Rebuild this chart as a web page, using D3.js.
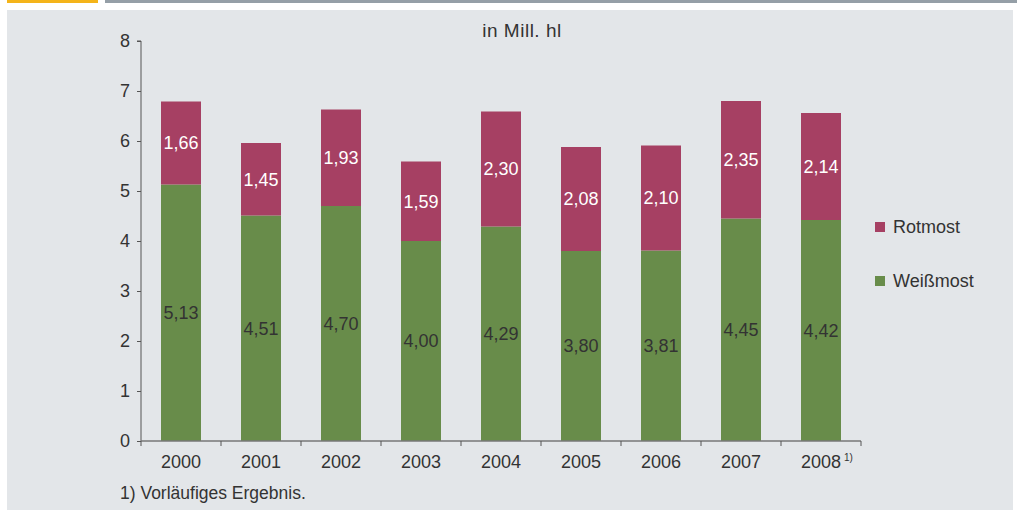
<!DOCTYPE html>
<html>
<head>
<meta charset="utf-8">
<script src="https://cdn.jsdelivr.net/npm/d3@7"></script>
<style>
  html, body { margin: 0; padding: 0; background: #ffffff; }
  svg { display: block; font-family: "Liberation Sans", Arial, sans-serif; }
</style>
</head>
<body>
<svg id="chart" width="1019" height="510"></svg>
<script>
// Most production in Germany, million hectolitres
const years = ["2000", "2001", "2002", "2003", "2004", "2005", "2006", "2007", "2008"];
const weissmost = [5.13, 4.51, 4.70, 4.00, 4.29, 3.80, 3.81, 4.45, 4.42];
const rotmost = [1.66, 1.45, 1.93, 1.59, 2.30, 2.08, 2.10, 2.35, 2.14];
const yTicks = [0, 1, 2, 3, 4, 5, 6, 7, 8];
const seriesNames = ["Weißmost", "Rotmost"];
const seriesColors = ["#688c4a", "#a64063"];
const labelColors = ["#333333", "#ffffff"];

const svg = d3.select("#chart");
const fmt = v => v.toFixed(2).replace(".", ",");
const FS = 18;

// header strips and panel
svg.append("rect").attr("x", 7).attr("y", 0).attr("width", 91).attr("height", 3).attr("fill", "#f4b41a");
svg.append("rect").attr("x", 105).attr("y", 0).attr("width", 912).attr("height", 3).attr("fill", "#959fa7");
svg.append("rect").attr("x", 7).attr("y", 10).attr("width", 1006).attr("height", 500).attr("fill", "#e3e6e9");

const margin = { left: 141, right: 861, top: 41, bottom: 441 };

const x = d3.scaleBand().domain(years).range([margin.left, margin.right]).paddingInner(0.5).paddingOuter(0.25);
const y = d3.scaleLinear().domain([0, 8]).range([margin.bottom, margin.top]);

const table = years.map((yr, i) => ({ year: yr, "Weißmost": weissmost[i], "Rotmost": rotmost[i] }));
const stack = d3.stack().keys(seriesNames)(table);

const g = svg.append("g");
stack.forEach((layer, li) => {
  g.append("g").selectAll("rect").data(layer).join("rect")
    .attr("x", d => x(d.data.year))
    .attr("width", x.bandwidth())
    .attr("y", d => y(d[1]))
    .attr("height", d => y(d[0]) - y(d[1]))
    .attr("fill", seriesColors[li]);
  g.append("g").selectAll("text").data(layer).join("text")
    .attr("x", d => x(d.data.year) + x.bandwidth() / 2)
    .attr("y", d => y((d[0] + d[1]) / 2))
    .attr("dy", "0.36em")
    .attr("text-anchor", "middle")
    .attr("font-size", FS)
    .attr("fill", labelColors[li])
    .text(d => fmt(d[1] - d[0]));
});

// y axis
const yAxis = svg.append("g").attr("transform", `translate(${margin.left},0)`)
  .call(d3.axisLeft(y).tickValues(yTicks).tickSize(4).tickPadding(7).tickFormat(d3.format("d")));
yAxis.select(".domain").attr("stroke", "#555").attr("d", `M-4,${margin.top}H0V${margin.bottom}`);
yAxis.selectAll(".tick line").attr("stroke", "#555");
yAxis.selectAll(".tick text").attr("font-size", FS).attr("fill", "#333").attr("font-family", "Liberation Sans, Arial, sans-serif");

// x axis with ticks on band boundaries
const xAxis = svg.append("g").attr("transform", `translate(0,${margin.bottom})`);
xAxis.append("line").attr("x1", margin.left).attr("x2", margin.right).attr("stroke", "#777").attr("stroke-width", 1.3);
const step = x.step();
const boundaries = d3.range(years.length + 1).map(i => margin.left + i * step);
xAxis.selectAll("line.tk").data(boundaries).join("line").attr("class", "tk")
  .attr("x1", d => d).attr("x2", d => d).attr("y1", 0).attr("y2", 5).attr("stroke", "#555");
xAxis.selectAll("text").data(years).join("text")
  .attr("x", d => x(d) + x.bandwidth() / 2)
  .attr("y", 27)
  .attr("text-anchor", "middle")
  .attr("font-size", FS)
  .attr("fill", "#333")
  .text(d => d);
// footnote marker on last year
svg.append("text").attr("x", x("2008") + x.bandwidth() / 2 + 23).attr("y", margin.bottom + 20)
  .attr("font-size", 10).attr("fill", "#333").text("1)");

// title
svg.append("text").attr("x", 522).attr("y", 37).attr("text-anchor", "middle")
  .attr("font-size", 19).attr("letter-spacing", 0.5).attr("fill", "#333").text("in Mill. hl");

// legend
const legendItems = [{ name: "Rotmost", color: seriesColors[1], y: 227 }, { name: "Weißmost", color: seriesColors[0], y: 281 }];
const lg = svg.append("g").selectAll("g").data(legendItems).join("g");
lg.append("rect").attr("x", 875).attr("y", d => d.y - 5).attr("width", 10).attr("height", 10).attr("fill", d => d.color);
lg.append("text").attr("x", 893).attr("y", d => d.y).attr("dy", "0.36em")
  .attr("font-size", FS).attr("fill", "#333").text(d => d.name);

// footnote
svg.append("text").attr("x", 120).attr("y", 499).attr("font-size", 17.5).attr("fill", "#333")
  .text("1) Vorläufiges Ergebnis.");
</script>
</body>
</html>
